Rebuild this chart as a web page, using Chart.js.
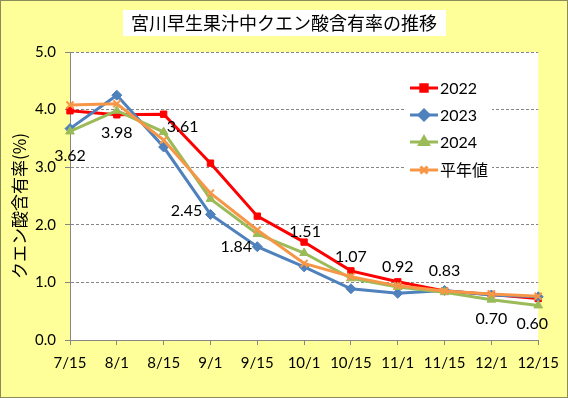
<!DOCTYPE html>
<html lang="ja">
  <head>
    <meta charset="UTF-8" />
    <title>宮川早生果汁中クエン酸含有率の推移</title>
    <script src="https://cdn.jsdelivr.net/npm/chart.js"></script>
    <style>
      html, body { margin: 0; padding: 0; background: #ffff99; }
      #wrap { width: 568px; height: 398px; }
    </style>
  </head>
  <body>
    <div id="wrap"><canvas id="grafica" width="568" height="398"></canvas></div>

    <script>
      // datos
      const fechas = ["7/15", "8/1", "8/15", "9/1", "9/15", "10/1", "10/15", "11/1", "11/15", "12/1", "12/15"];
      const serie2022 = [3.98, 3.91, 3.92, 3.07, 2.15, 1.70, 1.20, 1.01, 0.85, 0.79, 0.72];
      const serie2023 = [3.67, 4.25, 3.35, 2.18, 1.62, 1.27, 0.89, 0.81, 0.86, 0.78, 0.75];
      const serie2024 = [3.62, 3.98, 3.61, 2.45, 1.84, 1.51, 1.07, 0.92, 0.83, 0.70, 0.60];
      const heinenchi = [4.08, 4.10, 3.47, 2.55, 1.91, 1.33, 1.10, 0.94, 0.85, 0.80, 0.76];
      const ticksY = [0, 1, 2, 3, 4, 5];

      const titulo = "宮川早生果汁中クエン酸含有率の推移";
      const tituloY = "クエン酸含有率(%)";
      const fuenteNum = "Lato, 'Noto Sans CJK JP', sans-serif";
      const fuenteJp = "'Noto Sans CJK JP', sans-serif";

      // desplazamiento de cada etiqueta de 2024 respecto a su punto
      const desplaz = [[0, 24], [0, 22], [19, -5], [-24, 12], [-21, 13], [1, -21], [0, -22], [0, -20], [0, -21], [0, 19], [-6, 18]];

      const fondo = {
        id: "fondo",
        beforeDraw(chart) {
          const ctx = chart.ctx;
          ctx.save();
          ctx.fillStyle = "#ffff99";
          ctx.fillRect(0, 0, chart.width, chart.height);
          ctx.strokeStyle = "#8c8c5a";
          ctx.lineWidth = 1;
          ctx.strokeRect(0.5, 0.5, chart.width - 1, chart.height - 1);
          // área del gráfico en blanco
          const a = chart.chartArea;
          ctx.fillStyle = "#ffffff";
          ctx.fillRect(a.left, a.top, a.right - a.left, a.bottom - a.top);
          ctx.restore();
        },
      };

      const extras = {
        id: "extras",
        afterDraw(chart) {
          const ctx = chart.ctx;
          ctx.save();
          // título en caja blanca
          ctx.fillStyle = "#ffffff";
          ctx.fillRect(123, 10, 323, 26);
          ctx.fillStyle = "#000000";
          ctx.font = "18px " + fuenteJp;
          ctx.textAlign = "center";
          ctx.textBaseline = "middle";
          ctx.fillText(titulo, 284, 23);

          // título del eje Y
          ctx.save();
          ctx.translate(20, 206);
          ctx.rotate(-Math.PI / 2);
          ctx.font = "17px " + fuenteJp;
          ctx.fillText(tituloY, 0, 0);
          ctx.restore();

          // etiquetas de datos (2024)
          const meta = chart.getDatasetMeta(2);
          ctx.fillStyle = "#000000";
          ctx.font = "16px " + fuenteNum;
          meta.data.forEach((p, i) => {
            ctx.fillText(serie2024[i].toFixed(2), p.x + desplaz[i][0], p.y + desplaz[i][1]);
          });

          // leyenda dentro del área
          ctx.fillStyle = "#ffffff";
          ctx.fillRect(404, 72, 88, 112);
          const ys = [88, 115, 142, 170];
          chart.data.datasets.forEach((ds, i) => {
            const y = ys[i];
            ctx.strokeStyle = ds.borderColor;
            ctx.lineWidth = 3;
            ctx.beginPath();
            ctx.moveTo(410, y);
            ctx.lineTo(438, y);
            ctx.stroke();
            ctx.fillStyle = ds.pointBackgroundColor;
            ctx.strokeStyle = ds.pointBorderColor;
            Chart.helpers.drawPoint(ctx, {
              pointStyle: ds.pointStyle,
              radius: ds.pointRadius,
              rotation: 0,
              borderWidth: ds.pointBorderWidth,
            }, 424, y);
            ctx.fillStyle = "#000000";
            ctx.font = "16px " + fuenteNum;
            ctx.textAlign = "left";
            ctx.textBaseline = "middle";
            ctx.fillText(ds.label, 440, y + 1);
          });
          ctx.restore();
        },
      };

      function serie(nombre, datos, color, estilo, radio, borde, orden) {
        return {
          label: nombre,
          data: datos,
          borderColor: color,
          backgroundColor: color,
          pointBackgroundColor: color,
          pointBorderColor: color,
          pointStyle: estilo,
          pointRadius: radio,
          pointHoverRadius: radio,
          pointBorderWidth: borde,
          borderWidth: 3,
          tension: 0,
          order: orden,
        };
      }

      new Chart(document.getElementById("grafica").getContext("2d"), {
        type: "line",
        data: {
          labels: fechas,
          datasets: [
            serie("2022", serie2022, "#ff0000", "rect", 4.5, 1, 4),
            serie("2023", serie2023, "#4f81bd", "rectRot", 5, 1, 3),
            serie("2024", serie2024, "#9bbb59", "triangle", 5, 1, 2),
            serie("平年値", heinenchi, "#f79646", "crossRot", 5, 2, 1),
          ],
        },
        options: {
          responsive: false,
          animation: false,
          layout: { padding: { top: 52, right: 28, left: 0, bottom: 0 } },
          plugins: {
            legend: { display: false },
            title: { display: false },
            tooltip: { enabled: false },
          },
          scales: {
            x: {
              offset: false,
              afterFit(s) { s.height = 58; },
              grid: { drawOnChartArea: false, drawTicks: true, tickLength: 5, color: "#868686" },
              border: { color: "#868686" },
              ticks: { color: "#000000", font: { family: fuenteNum, size: 15 }, padding: 9, maxRotation: 0, autoSkip: false },
            },
            y: {
              min: 0,
              max: 5,
              afterFit(s) { s.width = 70; },
              afterBuildTicks(s) { s.ticks = ticksY.map((v) => ({ value: v })); },
              grid: { color: "#868686", tickLength: 5, tickBorderDash: [] },
              border: { color: "#868686", dash: [3, 2] },
              ticks: {
                color: "#000000",
                font: { family: fuenteNum, size: 15 },
                padding: 9,
                callback: (v) => Number(v).toFixed(1),
              },
            },
          },
        },
        plugins: [fondo, extras],
      });
    </script>
  </body>
</html>
